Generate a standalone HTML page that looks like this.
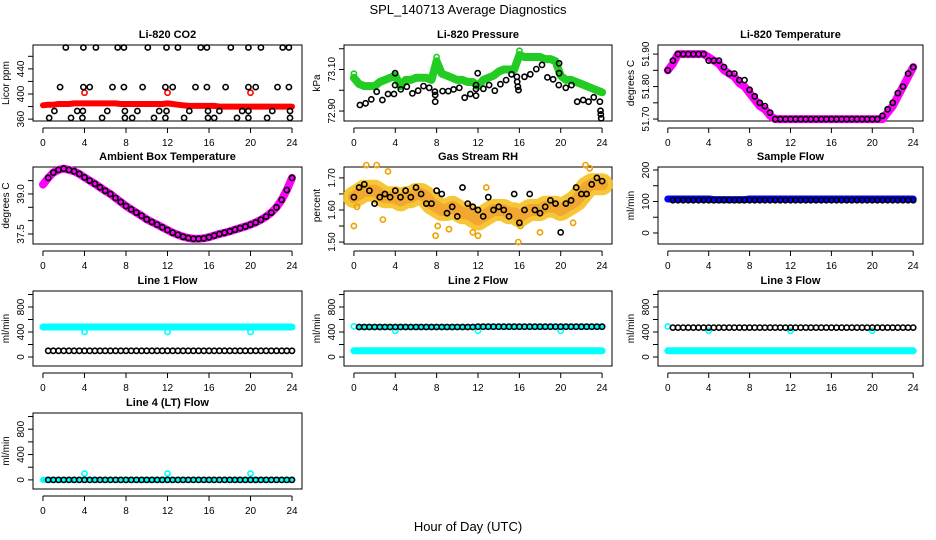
<!DOCTYPE html>
<html><head><meta charset="utf-8"><style>
html,body{margin:0;padding:0;background:#fff;}
svg{display:block;font-family:"Liberation Sans",Arial,sans-serif;}
</style></head><body>
<svg id="chart" width="936" height="540" viewBox="0 0 936 540" xmlns="http://www.w3.org/2000/svg">
<text x="468" y="14" text-anchor="middle" font-size="13">SPL_140713  Average Diagnostics</text>
<text x="468" y="531" text-anchor="middle" font-size="13">Hour of Day (UTC)</text>
</svg>
<script>
// ---------- data ----------
const halfHours = [0,0.5,1,1.5,2,2.5,3,3.5,4,4.5,5,5.5,6,6.5,7,7.5,8,8.5,9,9.5,10,10.5,11,11.5,12,12.5,13,13.5,14,14.5,15,15.5,16,16.5,17,17.5,18,18.5,19,19.5,20,20.5,21,21.5,22,22.5,23,23.5,24];
const xTicks = [0,4,8,12,16,20,24];

const co2Hours = [2.2,3.9,5.1,7.2,7.8,10.1,11.9,13.0,15.2,15.8,18.1,19.8,21.0,23.1,23.7,
  1.65,3.9,4.5,6.7,7.8,9.6,11.8,12.5,14.7,15.8,17.6,19.8,20.5,22.6,23.7,
  1.1,3.3,3.85,6.2,7.9,9.1,11.2,11.9,14.1,15.9,17.0,19.2,19.8,22.1,23.8,
  0.6,2.7,3.8,5.7,7.9,8.6,10.7,11.8,13.6,15.9,16.5,18.7,19.8,21.6,23.8];
const co2Values = [474,474,474,474,474,474,474,474,474,474,474,474,474,474,474,
  411,411,411,411,411,411,411,411,411,411,411,411,411,411,411,
  373,373,373,373,373,373,373,373,373,373,373,373,373,373,373,
  362,362,362,362,362,362,362,362,362,362,362,362,362,362,362];
const co2Red = [382,383,383,384,384,384,385,385,385,385,385,385,385,385,385,384,384,384,384,384,384,384,384,384,385,384,383,382,381,381,381,381,381,381,380,380,380,380,380,380,380,380,380,380,380,380,380,380,380];
const co2RedOutHours = [4,12,20];
const co2RedOut = [402,402,402];

const presHours = [0.58,1.13,1.68,2.2,2.75,3.3,3.88,3.98,3.98,4.53,5.11,5.66,6.21,6.73,7.28,7.83,7.86,7.86,8.58,9.13,9.64,10.19,10.71,11.26,11.81,11.81,11.81,11.97,12.52,13.07,13.62,14.17,14.72,15.24,15.76,15.79,15.86,15.92,16.5,17.06,17.64,18.19,18.71,19.26,19.81,19.84,19.84,20.49,21.04,21.59,22.17,22.69,23.2,23.79,23.85,23.88,23.92];
const presBlack = [72.929,72.937,72.956,72.993,72.953,72.982,72.982,73.025,73.082,73.004,73.017,72.985,72.998,73.020,73.012,72.993,72.977,72.945,72.996,72.996,73.004,73.012,72.964,72.982,72.974,73.006,73.025,73.082,73.007,73.025,72.998,73.029,73.049,73.077,73.065,73.041,73.017,73.001,73.065,73.077,73.102,73.122,73.062,73.053,73.025,73.082,73.130,73.012,73.025,72.945,72.953,72.945,72.966,72.945,72.901,72.884,72.865];
const presGreen = [73.06,73.03,73.02,73.02,73.02,73.04,73.05,73.06,73.07,73.02,73.05,73.05,73.06,73.06,73.06,73.05,73.14,73.08,73.07,73.06,73.05,73.05,73.04,73.04,73.02,73.05,73.06,73.07,73.09,73.10,73.10,73.10,73.17,73.16,73.16,73.16,73.16,73.15,73.15,73.14,73.07,73.05,73.05,73.04,73.03,73.02,73.01,73.00,72.99];

const tempMag = [51.85,51.87,51.90,51.90,51.90,51.90,51.90,51.90,51.89,51.88,51.87,51.85,51.84,51.83,51.81,51.80,51.78,51.76,51.74,51.73,51.71,51.70,51.70,51.70,51.70,51.70,51.70,51.70,51.70,51.70,51.70,51.70,51.70,51.70,51.70,51.70,51.70,51.70,51.70,51.70,51.70,51.70,51.70,51.72,51.74,51.77,51.80,51.83,51.86];
const tempBlack = [51.85,51.88,51.90,51.90,51.90,51.90,51.90,51.90,51.88,51.88,51.88,51.86,51.84,51.84,51.82,51.82,51.79,51.77,51.75,51.74,51.72,51.70,51.70,51.70,51.70,51.70,51.70,51.70,51.70,51.70,51.70,51.70,51.70,51.70,51.70,51.70,51.70,51.70,51.70,51.70,51.70,51.70,51.71,51.73,51.75,51.78,51.80,51.84,51.86];

const ambMag = [39.35,39.6,39.8,39.9,39.95,39.9,39.85,39.75,39.62,39.5,39.38,39.25,39.12,39.0,38.85,38.7,38.55,38.42,38.3,38.18,38.05,37.95,37.85,37.75,37.65,37.55,37.47,37.4,37.35,37.32,37.32,37.34,37.38,37.44,37.5,37.55,37.6,37.66,37.72,37.78,37.85,37.93,38.03,38.15,38.3,38.5,38.78,39.15,39.6];

const rhOrange = [1.64,1.65,1.66,1.66,1.66,1.65,1.64,1.64,1.64,1.63,1.64,1.64,1.65,1.65,1.64,1.62,1.61,1.60,1.60,1.61,1.60,1.59,1.59,1.58,1.57,1.58,1.59,1.60,1.60,1.60,1.59,1.59,1.58,1.59,1.60,1.60,1.60,1.61,1.61,1.61,1.60,1.61,1.62,1.63,1.65,1.67,1.68,1.68,1.68];
const rhBlack = [1.64,1.67,1.68,1.66,1.62,1.64,1.65,1.64,1.66,1.64,1.66,1.64,1.67,1.65,1.62,1.62,1.66,1.65,1.59,1.61,1.58,1.67,1.62,1.61,1.60,1.58,1.64,1.60,1.61,1.60,1.58,1.65,1.56,1.60,1.65,1.60,1.59,1.61,1.63,1.62,1.53,1.62,1.63,1.67,1.65,1.65,1.68,1.70,1.69];
const rhOutHours = [0,0.3,1.2,2.2,2.8,3.3,7.9,8.1,9.2,11.5,12.0,12.8,15.9,16.1,18.0,21.2,22.4,22.8];
const rhOut = [1.55,1.61,1.74,1.74,1.57,1.72,1.52,1.55,1.54,1.53,1.52,1.67,1.50,1.55,1.53,1.56,1.74,1.73];

const flowBlue = [108,108,108,108,108,108,108,108,108,106,106,106,106,106,106,106,108,108,108,108,108,108,108,108,108,108,108,108,108,108,108,108,108,108,108,108,108,108,108,108,108,108,108,108,108,108,108,108,108];
const flowBlack = [104,104,104,104,104,104,104,104,104,104,104,104,104,104,104,104,104,104,104,104,104,104,104,104,104,104,104,104,104,104,104,104,104,104,104,104,104,104,104,104,104,104,104,104,104,104,104,104,104];

const line1Cyan = [480,480,480,480,480,480,480,480,480,480,480,480,480,480,480,480,480,480,480,480,480,480,480,480,480,480,480,480,480,480,480,480,480,480,480,480,480,480,480,480,480,480,480,480,480,480,480,480,480];
const line1CyanOutHours = [4,12,20];
const line1CyanOut = [400,400,400];
const line1Black = [100,100,100,100,100,100,100,100,100,100,100,100,100,100,100,100,100,100,100,100,100,100,100,100,100,100,100,100,100,100,100,100,100,100,100,100,100,100,100,100,100,100,100,100,100,100,100,100,100];
const line2Cyan = [100,100,100,100,100,100,100,100,100,100,100,100,100,100,100,100,100,100,100,100,100,100,100,100,100,100,100,100,100,100,100,100,100,100,100,100,100,100,100,100,100,100,100,100,100,100,100,100,100];
const line2CyanOutHours = [0,4,12,20];
const line2CyanOut = [490,420,420,420];
const line2Black = [480,480,480,480,480,480,480,480,480,480,480,480,480,480,480,480,480,480,480,480,480,480,480,480,485,485,485,485,485,485,485,485,485,485,485,485,485,485,485,485,485,485,485,485,485,485,485,485,485];
const line3Cyan = line2Cyan;
const line3Black = [470,470,470,470,470,470,470,470,470,470,470,470,470,470,470,470,470,470,470,470,470,470,470,470,470,470,470,470,470,470,470,470,470,470,470,470,470,470,470,470,470,470,470,470,470,470,470,470,470];
const line4Cyan = [0,0,0,0,0,0,0,0,0,0,0,0,0,0,0,0,0,0,0,0,0,0,0,0,0,0,0,0,0,0,0,0,0,0,0,0,0,0,0,0,0,0,0,0,0,0,0,0,0];
const line4CyanOutHours = [4,12,20];
const line4CyanOut = [100,100,100];
const line4Black = line4Cyan;
const flowTicks = [0,200,400,600,800,1000];
const flowTickLabels = ["0","","400","","800",""];

// ---------- drawing ----------
const svg = document.getElementById('chart');
const NS = 'http://www.w3.org/2000/svg';
function mk(tag, attrs, parent){
  const e = document.createElementNS(NS, tag);
  for (const k in attrs) e.setAttribute(k, attrs[k]);
  (parent||svg).appendChild(e);
  return e;
}
const cols = [[33,302],[344,612],[658,923]];
const rows = [[45,121],[167,244],[291,366],[413,489]];

function panel(ci, ri, name, title, ylab, ydom, yticks, ylabels){
  const [x0,x1] = cols[ci], [y0,y1] = rows[ri];
  const g = mk('g', {});
  
  
  const xs = v => x0 + (v + 0.96) / 25.92 * (x1 - x0);
  const ys = v => y1 - (v - ydom[0]) / (ydom[1] - ydom[0]) * (y1 - y0);
  const t = mk('text', {x:(x0+x1)/2, y:y0-7, 'text-anchor':'middle', 'font-size':11, 'font-weight':'bold'}, g);
  t.textContent = title;
  
  
  const box = mk('rect', {x:x0, y:y0, width:x1-x0, height:y1-y0, fill:'none', stroke:'#000', 'stroke-width':1}, g);
  
  
  const xa = mk('g', {}, g);
  
  
  mk('line', {x1:xs(0), x2:xs(24), y1:y1+7, y2:y1+7, stroke:'#000'}, xa);
  xTicks.forEach(v => {
    mk('line', {x1:xs(v), x2:xs(v), y1:y1+7, y2:y1+12, stroke:'#000'}, xa);
    const tl = mk('text', {x:xs(v), y:y1+25, 'text-anchor':'middle', 'font-size':10}, xa);
    tl.textContent = v;
  });
  const ya = mk('g', {}, g);
  
  
  mk('line', {x1:x0, x2:x0, y1:ys(yticks[0]), y2:ys(yticks[yticks.length-1]), stroke:'#000'}, ya);
  yticks.forEach((v,i) => {
    mk('line', {x1:x0-5, x2:x0, y1:ys(v), y2:ys(v), stroke:'#000'}, ya);
    if (ylabels[i]) {
      const tl = mk('text', {x:0, y:0, 'text-anchor':'middle', 'font-size':10, transform:`translate(${x0-9},${ys(v)}) rotate(-90)`}, ya);
      tl.textContent = ylabels[i];
    }
  });
  const yl = mk('text', {x:0, y:0, 'text-anchor':'middle', 'font-size':10, transform:`translate(${x0-24},${(y0+y1)/2}) rotate(-90)`}, g);
  yl.textContent = ylab;
  
  
  return {g, xs, ys};
}
function band(p, name, hours, vals, color, width, op){
  const d = hours.map((h,i) => (i?'L':'M') + p.xs(h).toFixed(1) + ' ' + p.ys(vals[i]).toFixed(1)).join(' ');
  const e = mk('path', {d, fill:'none', stroke:color, 'stroke-width':width, 'stroke-linecap':'round', 'stroke-linejoin':'round', 'stroke-opacity':op||1}, p.g);
  
  
}
function pts(p, name, hours, vals, color, r, sw){
  const gg = mk('g', {}, p.g);
  
  
  hours.forEach((h,i) => {
    mk('circle', {cx:p.xs(h).toFixed(1), cy:p.ys(vals[i]).toFixed(1), r:r||2.6, fill:'none', stroke:color, 'stroke-width':sw||1.6}, gg);
  });
}
const blackHours = halfHours.slice(1);

// CO2
let p = panel(0,0,'co2','Li-820 CO2','Licor ppm',[357,478],[360,380,400,420,440,460],['360','','400','','440','']);
band(p,'co2-red-band',halfHours,co2Red,'#f00',6);
pts(p,'co2-red-outliers',co2RedOutHours,co2RedOut,'#f00');
pts(p,'co2-black-points',co2Hours,co2Values,'#000');
// Pressure
p = panel(1,0,'pressure','Li-820 Pressure','kPa',[72.852,73.218],[72.90,73.00,73.10,73.20],['72.90','','73.10','']);
band(p,'pressure-green-band',halfHours,presGreen,'#2c2',8);
pts(p,'pressure-green-outliers',[0,8,16],[73.08,73.16,73.19],'#2c2');
pts(p,'pressure-black-points',presHours,presBlack,'#000');
// Li-820 temperature
p = panel(2,0,'li820-temp','Li-820 Temperature','degrees C',[51.694,51.928],[51.70,51.75,51.80,51.85,51.90],['51.70','','51.80','','51.90']);
band(p,'li820-temp-magenta-band',halfHours,tempMag,'#f0f',8);
pts(p,'li820-temp-black-points',halfHours,tempBlack,'#000');
// Ambient
p = panel(0,1,'ambient-temp','Ambient Box Temperature','degrees C',[37.125,40.01],[37.5,38.0,38.5,39.0,39.5],['37.5','','','39.0','']);
band(p,'ambient-magenta-band',halfHours,ambMag,'#f0f',8);
pts(p,'ambient-black-points',blackHours,ambMag.slice(1),'#000');
// RH
p = panel(1,1,'rh','Gas Stream RH','percent',[1.494,1.734],[1.50,1.55,1.60,1.65,1.70],['1.50','','1.60','','1.70']);
band(p,'rh-orange-band',halfHours,rhOrange,'#f6c020',22,0.9);
band(p,'rh-orange-core',halfHours,rhOrange,'#f0a030',12,0.8);
pts(p,'rh-orange-outliers',rhOutHours,rhOut,'#f0a000',2.6,1.6);
pts(p,'rh-black-points',halfHours,rhBlack,'#000');
// Sample flow
p = panel(2,1,'sample-flow','Sample Flow','ml/min',[-35,209.5],[0,50,100,150,200],['0','','100','','200']);
band(p,'sample-flow-blue-band',halfHours,flowBlue,'#00f',7);
pts(p,'sample-flow-black-points',blackHours,flowBlack.slice(1),'#000');
// Line flows
const fd = [-144,1056];
p = panel(0,2,'line1-flow','Line 1 Flow','ml/min',fd,flowTicks,flowTickLabels);
band(p,'line1-cyan-band',halfHours,line1Cyan,'#0ff',7);
pts(p,'line1-cyan-outliers',line1CyanOutHours,line1CyanOut,'#0ff');
pts(p,'line1-black-points',blackHours,line1Black.slice(1),'#000');
p = panel(1,2,'line2-flow','Line 2 Flow','ml/min',fd,flowTicks,flowTickLabels);
band(p,'line2-cyan-band',halfHours,line2Cyan,'#0ff',7);
band(p,'line2-cyan-upper-band',blackHours,line2Black.slice(1),'#0ff',6);
pts(p,'line2-cyan-outliers',line2CyanOutHours,line2CyanOut,'#0ff');
pts(p,'line2-black-points',blackHours,line2Black.slice(1),'#000');
p = panel(2,2,'line3-flow','Line 3 Flow','ml/min',fd,flowTicks,flowTickLabels);
band(p,'line3-cyan-band',halfHours,line3Cyan,'#0ff',7);
pts(p,'line3-cyan-outliers',line2CyanOutHours,line2CyanOut,'#0ff');
pts(p,'line3-black-points',blackHours,line3Black.slice(1),'#000');
p = panel(0,3,'line4-flow','Line 4 (LT) Flow','ml/min',fd,flowTicks,flowTickLabels);
band(p,'line4-cyan-band',halfHours,line4Cyan,'#0ff',6);
pts(p,'line4-cyan-outliers',line4CyanOutHours,line4CyanOut,'#0ff');
pts(p,'line4-black-points',blackHours,line4Black.slice(1),'#000');
</script>
</body></html>
